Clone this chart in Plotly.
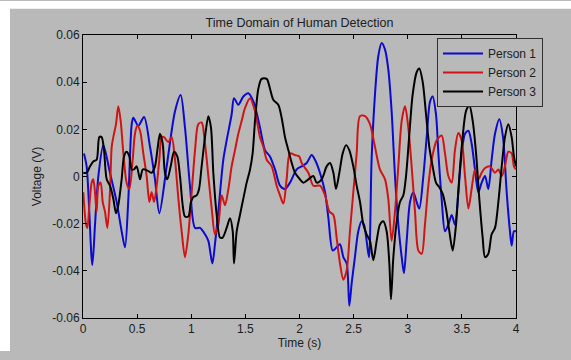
import plotly.graph_objects as go

# ---- data (time in s, voltage in V) ----
p1_t = [0.009, 0.034, 0.086, 0.111, 0.142, 0.188, 0.249, 0.311, 0.357, 0.388, 0.419, 0.450, 0.465, 0.511, 0.564,
        0.619, 0.665, 0.705, 0.773, 0.850, 0.902, 0.942, 0.988, 1.035, 1.081, 1.127, 1.158, 1.195, 1.219, 1.250,
        1.296, 1.327, 1.373, 1.395, 1.435, 1.481, 1.527, 1.574, 1.635, 1.681, 1.727, 1.774, 1.820, 1.866, 1.912,
        1.974, 2.020, 2.066, 2.112, 2.143, 2.189, 2.236, 2.267, 2.307, 2.343, 2.374, 2.405, 2.436, 2.460, 2.482,
        2.512, 2.543, 2.574, 2.596, 2.620, 2.642, 2.666, 2.697, 2.728, 2.759, 2.790, 2.820, 2.851, 2.882, 2.913,
        2.944, 2.965, 2.990, 3.021, 3.052, 3.082, 3.107, 3.144, 3.175, 3.206, 3.230, 3.261, 3.283, 3.313, 3.344,
        3.375, 3.406, 3.436, 3.467, 3.498, 3.529, 3.560, 3.590, 3.621, 3.652, 3.683, 3.714, 3.744, 3.775, 3.806,
        3.846, 3.880, 3.914, 3.944, 3.960, 3.981, 4.000]
p1_v = [0.0098, 0.0043, -0.0376, -0.0204, 0.0002, 0.0133, 0.0016, -0.0108, -0.0232, -0.0300, -0.0094, 0.0222, 0.0249, 0.0215, 0.0252,
        0.0126, -0.0012, -0.0156, 0.0043, 0.0277, 0.0346, 0.0208, -0.0039, -0.0218, -0.0218, -0.0245, -0.0273, -0.0369, -0.0287, -0.0149,
        0.0071, 0.0153, 0.0263, 0.0332, 0.0304, 0.0339, 0.0353, 0.0318, 0.0208, 0.0112, 0.0085, 0.0030, -0.0039, -0.0053, -0.0026,
        0.0030, 0.0043, 0.0057, 0.0091, 0.0071, 0.0016, -0.0067, -0.0177, -0.0314, -0.0300, -0.0287, -0.0342, -0.0369, -0.0548, -0.0452,
        -0.0342, -0.0232, -0.0190, -0.0204, -0.0273, -0.0342, 0.0071, 0.0346, 0.0511, 0.0566, 0.0538, 0.0455, 0.0277, 0.0002, -0.0204,
        -0.0342, -0.0410, -0.0273, -0.0108, -0.0067, -0.0108, -0.0136, 0.0002, 0.0167, 0.0318, 0.0339, 0.0263, 0.0098, -0.0094, -0.0232,
        -0.0204, -0.0163, -0.0204, -0.0067, 0.0098, 0.0181, 0.0194, 0.0140, 0.0030, -0.0067, -0.0026, 0.0002, -0.0053, 0.0071, 0.0181,
        0.0243, 0.0167, -0.0067, -0.0232, -0.0293, -0.0232, -0.0232]

p2_t = [0.003, 0.028, 0.040, 0.059, 0.080, 0.095, 0.111, 0.126, 0.142, 0.163, 0.182, 0.203, 0.225, 0.249, 0.265,
        0.280, 0.305, 0.326, 0.348, 0.373, 0.403, 0.428, 0.459, 0.480, 0.502, 0.527, 0.557, 0.588, 0.613, 0.634,
        0.656, 0.681, 0.705, 0.727, 0.748, 0.788, 0.819, 0.850, 0.881, 0.911, 0.942, 0.973, 1.004, 1.035, 1.065,
        1.096, 1.127, 1.158, 1.189, 1.219, 1.250, 1.281, 1.312, 1.343, 1.373, 1.404, 1.435, 1.466, 1.497, 1.543,
        1.589, 1.635, 1.666, 1.697, 1.743, 1.789, 1.820, 1.851, 1.881, 1.912, 1.958, 1.998, 2.020, 2.082, 2.128,
        2.189, 2.236, 2.276, 2.313, 2.343, 2.374, 2.405, 2.436, 2.466, 2.497, 2.528, 2.559, 2.605, 2.651, 2.697,
        2.743, 2.790, 2.820, 2.851, 2.882, 2.913, 2.944, 2.975, 3.005, 3.036, 3.067, 3.098, 3.129, 3.159, 3.190,
        3.221, 3.267, 3.313, 3.344, 3.375, 3.406, 3.436, 3.467, 3.498, 3.529, 3.560, 3.590, 3.621, 3.652, 3.683,
        3.714, 3.760, 3.806, 3.837, 3.868, 3.898, 3.929, 3.960, 3.981, 4.000]
p2_v = [-0.0067, -0.0204, -0.0218, -0.0122, -0.0026, -0.0012, -0.0067, -0.0149, -0.0039, -0.0026, -0.0108, -0.0149, -0.0218, -0.0067, 0.0126,
        0.0167, 0.0222, 0.0298, 0.0236, 0.0098, -0.0026, -0.0053, 0.0071, 0.0181, 0.0215, 0.0194, 0.0098, 0.0002, -0.0108, -0.0067,
        -0.0108, -0.0039, 0.0071, 0.0167, 0.0167, 0.0146, 0.0167, 0.0071, -0.0094, -0.0232, -0.0342, -0.0245, -0.0067, 0.0112, 0.0222,
        0.0229, 0.0140, 0.0002, -0.0136, -0.0245, -0.0204, -0.0080, -0.0122, -0.0053, 0.0043, 0.0112, 0.0181, 0.0236, 0.0291, 0.0332,
        0.0277, 0.0167, 0.0126, 0.0071, 0.0043, -0.0039, -0.0080, -0.0115, -0.0012, 0.0098, 0.0091, 0.0085, 0.0057, 0.0016, -0.0039,
        -0.0039, -0.0080, -0.0149, -0.0163, -0.0259, -0.0369, -0.0438, -0.0397, -0.0232, -0.0067, 0.0098, 0.0256, 0.0256, 0.0222, 0.0126,
        0.0030, -0.0012, -0.0094, -0.0273, -0.0149, 0.0043, 0.0236, 0.0298, 0.0208, 0.0043, -0.0149, -0.0314, -0.0328, -0.0204, -0.0039,
        0.0071, 0.0153, 0.0174, 0.0098, 0.0002, -0.0026, 0.0112, 0.0184, 0.0153, 0.0002, -0.0136, -0.0053, 0.0030, -0.0012, 0.0016,
        0.0036, 0.0043, 0.0016, 0.0030, 0.0002, 0.0043, 0.0105, 0.0098, 0.0043, 0.0030]

p3_t = [0.003, 0.034, 0.065, 0.095, 0.126, 0.151, 0.172, 0.194, 0.219, 0.249, 0.280, 0.305, 0.326, 0.357, 0.379,
        0.403, 0.428, 0.450, 0.471, 0.496, 0.527, 0.551, 0.573, 0.604, 0.634, 0.665, 0.687, 0.711, 0.736, 0.757,
        0.779, 0.810, 0.841, 0.871, 0.896, 0.921, 0.942, 0.973, 0.998, 1.019, 1.050, 1.072, 1.096, 1.127, 1.158,
        1.182, 1.204, 1.235, 1.266, 1.290, 1.327, 1.358, 1.383, 1.395, 1.420, 1.450, 1.481, 1.512, 1.543, 1.567,
        1.589, 1.620, 1.650, 1.697, 1.727, 1.758, 1.804, 1.835, 1.866, 1.897, 1.928, 1.958, 1.980, 2.035, 2.082,
        2.128, 2.159, 2.205, 2.251, 2.282, 2.313, 2.337, 2.368, 2.399, 2.430, 2.460, 2.497, 2.528, 2.559, 2.590,
        2.620, 2.651, 2.682, 2.713, 2.743, 2.774, 2.805, 2.830, 2.845, 2.867, 2.898, 2.928, 2.959, 2.984, 3.015,
        3.045, 3.082, 3.107, 3.138, 3.169, 3.199, 3.230, 3.261, 3.292, 3.323, 3.353, 3.384, 3.415, 3.446, 3.477,
        3.507, 3.538, 3.569, 3.600, 3.631, 3.661, 3.692, 3.714, 3.744, 3.775, 3.806, 3.837, 3.868, 3.898, 3.929,
        3.960, 3.981, 4.000]
p3_v = [0.0016, 0.0016, 0.0043, 0.0064, 0.0071, 0.0167, 0.0167, 0.0112, -0.0012, -0.0039, -0.0094, -0.0156, -0.0122, -0.0012, 0.0085,
        0.0105, 0.0085, 0.0030, 0.0030, 0.0043, -0.0012, 0.0030, 0.0030, 0.0023, 0.0016, 0.0043, 0.0112, 0.0181, 0.0140, 0.0016,
        -0.0012, 0.0043, 0.0105, 0.0085, 0.0002, -0.0122, -0.0170, -0.0170, -0.0108, -0.0087, -0.0080, -0.0053, 0.0043, 0.0167, 0.0256,
        0.0208, 0.0016, -0.0163, -0.0259, -0.0259, -0.0218, -0.0177, -0.0232, -0.0369, -0.0232, -0.0163, -0.0094, -0.0026, 0.0030, 0.0098,
        0.0236, 0.0373, 0.0414, 0.0414, 0.0373, 0.0325, 0.0304, 0.0249, 0.0167, 0.0112, 0.0057, 0.0016, 0.0002, -0.0026, -0.0012,
        0.0002, -0.0026, -0.0012, 0.0043, 0.0057, 0.0016, -0.0053, 0.0016, 0.0098, 0.0133, 0.0112, 0.0043, -0.0039, -0.0108, -0.0204,
        -0.0245, -0.0273, -0.0355, -0.0273, -0.0204, -0.0190, -0.0232, -0.0369, -0.0520, -0.0342, -0.0190, -0.0108, -0.0080, 0.0002, 0.0181,
        0.0346, 0.0442, 0.0458, 0.0401, 0.0263, 0.0126, 0.0043, -0.0026, -0.0046, -0.0074, -0.0136, -0.0232, -0.0314, -0.0204, 0.0002,
        0.0167, 0.0277, 0.0302, 0.0236, 0.0098, -0.0094, -0.0259, -0.0342, -0.0328, -0.0245, -0.0218, -0.0108, 0.0043, 0.0167, 0.0222,
        0.0167, 0.0085, 0.0043]

series_names = ["Person 1", "Person 2", "Person 3"]
series_colors = ["#0a0ad2", "#d01414", "#000000"]

x_tickvals = [0, 0.5, 1, 1.5, 2, 2.5, 3, 3.5, 4]
x_ticktext = ["0", "0.5", "1", "1.5", "2", "2.5", "3", "3.5", "4"]
y_tickvals = [-0.06, -0.04, -0.02, 0, 0.02, 0.04, 0.06]
y_ticktext = ["-0.06", "-0.04", "-0.02", "0", "0.02", "0.04", "0.06"]

GRAY = "#b9b9b9"
FONT = "Liberation Sans, Arial, sans-serif"

fig = go.Figure()
for name, t, v, c in zip(series_names, [p1_t, p2_t, p3_t], [p1_v, p2_v, p3_v], series_colors):
    fig.add_trace(go.Scatter(x=t, y=v, mode="lines", name=name,
                             line=dict(color=c, width=2, shape="spline", smoothing=0.8)))

axis_common = dict(showline=True, mirror="ticks", linecolor="#000000", linewidth=1,
                   ticks="inside", ticklen=4, tickcolor="#000000", tickwidth=1,
                   showgrid=False, zeroline=False,
                   tickfont=dict(family=FONT, size=12, color="#202020"))

fig.update_xaxes(range=[0, 4], tickvals=x_tickvals, ticktext=x_ticktext,
                 title=dict(text="Time (s)", font=dict(family=FONT, size=12, color="#202020"), standoff=3),
                 **axis_common)
fig.update_yaxes(range=[-0.06, 0.06], tickvals=y_tickvals, ticktext=y_ticktext,
                 title=dict(text="Voltage (V)", font=dict(family=FONT, size=12, color="#202020"), standoff=8),
                 **axis_common)

fig.update_layout(
    width=571, height=360,
    margin=dict(l=83, r=55, t=35, b=34, pad=0),
    paper_bgcolor=GRAY, plot_bgcolor=GRAY,
    title=dict(text="Time Domain of Human Detection", xref="paper", x=0.5, xanchor="center",
               yref="container", y=1 - 23 / 360, yanchor="middle",
               font=dict(family=FONT, size=12.5, color="#202020")),
    legend=dict(x=(437 - 83) / 433, y=(326 - 38) / 291, xanchor="left", yanchor="top",
                bgcolor=GRAY, bordercolor="#303030", borderwidth=1,
                font=dict(family=FONT, size=12, color="#202020"),
                itemwidth=40, tracegroupgap=0),
    showlegend=True,
    shapes=[
        dict(type="rect", xref="paper", yref="paper", x0=-83 / 433, x1=(10 - 83) / 433,
             y0=-34 / 291, y1=(291 + 35) / 291, fillcolor="#ffffff", line=dict(width=0), layer="below"),
        dict(type="rect", xref="paper", yref="paper", x0=-83 / 433, x1=(571 - 83) / 433,
             y0=(291 + 35 - 8) / 291, y1=(291 + 35) / 291, fillcolor="#ffffff", line=dict(width=0), layer="below"),
    ],
)

fig.write_html("out.html")
